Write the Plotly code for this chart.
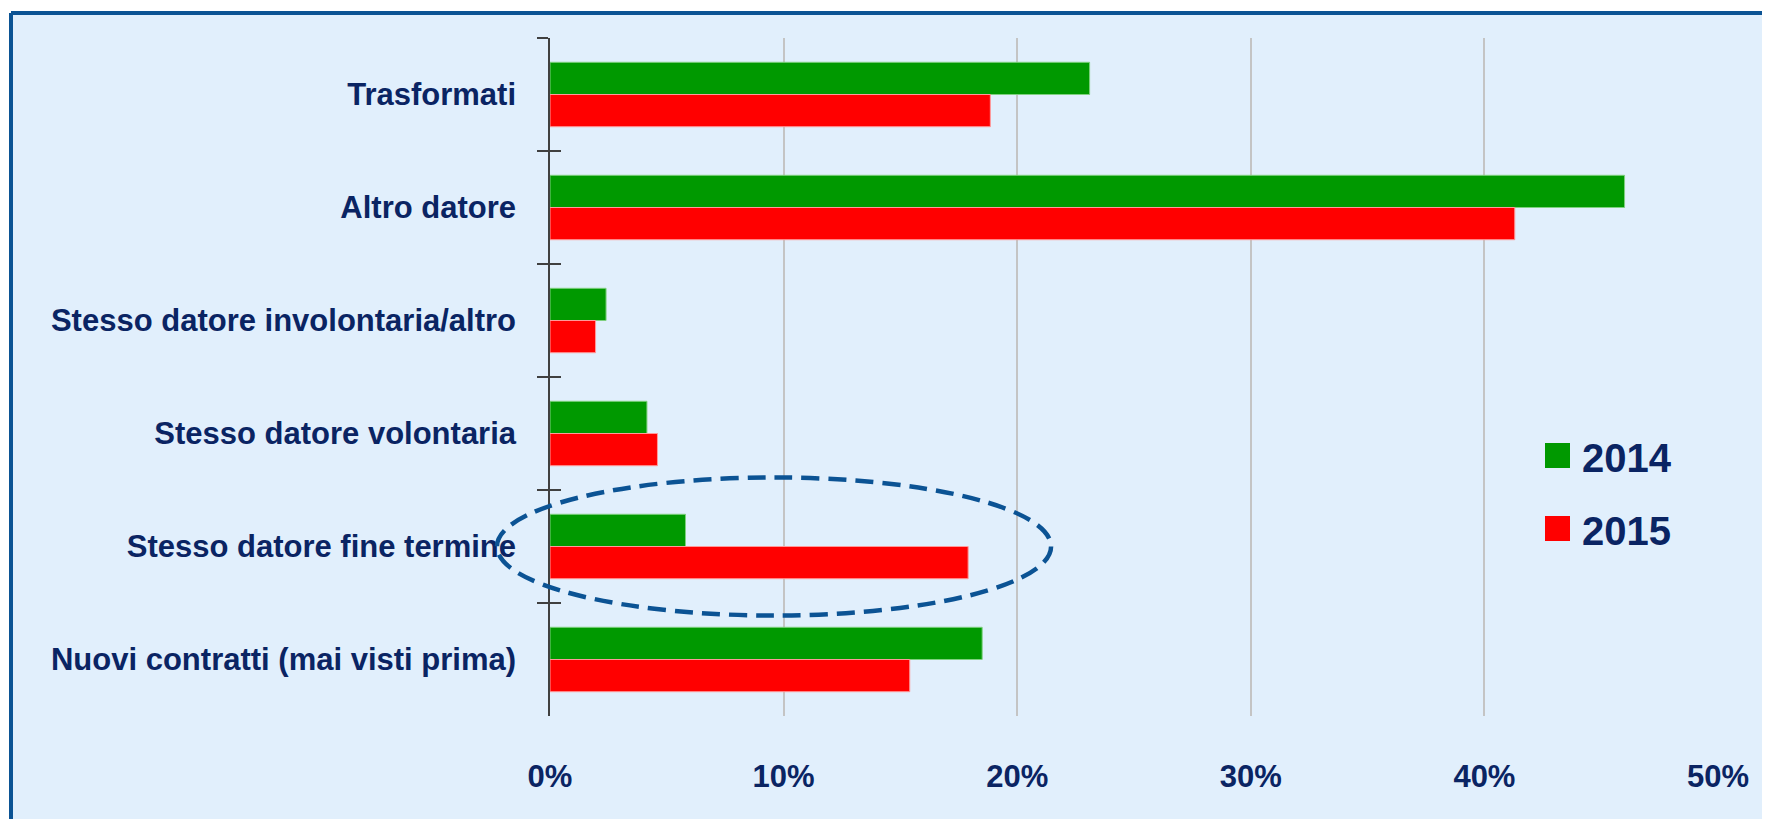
import plotly.graph_objects as go

categories = [
    "Trasformati",
    "Altro datore",
    "Stesso datore involontaria/altro",
    "Stesso datore volontaria",
    "Stesso datore fine termine",
    "Nuovi contratti (mai visti prima)",
]
values_2014 = [23.1, 46.0, 2.4, 4.15, 5.8, 18.5]
values_2015 = [18.85, 41.3, 1.95, 4.6, 17.9, 15.4]
series_names = ["2014", "2015"]
x_ticks = [0, 10, 20, 30, 40, 50]
x_ticktext = ["0%", "10%", "20%", "30%", "40%", "50%"]

GREEN = "#009900"
RED = "#ff0000"
NAVY = "#0a2463"
BG = "#e1effc"
BORDER = "#0b5394"
FONT = "Liberation Sans Narrow, Arial Narrow, Liberation Sans, sans-serif"

OFF = 8  # page body margin
W, H = 1770 - OFF, 819 - OFF
# plot area in page pixels: x 550..1718, y 38..716
ML = 550 - OFF
MT = 38 - OFF
PW = 1718 - 550
PH = 716 - 38
MR = W - ML - PW
MB = H - MT - PH
XMIN, XMAX = 0, 50
N = len(categories)


def px_to_paper_x(px):
    return (px - OFF - ML) / PW


def px_to_paper_y(py):
    return (MT + PH - (py - OFF)) / PH


def data_to_paper_x(v):
    return (v - XMIN) / (XMAX - XMIN)


def cat_to_paper_y(idx):
    return 1 - (idx + 0.5) / N


fig = go.Figure()
fig.add_trace(go.Bar(
    y=categories, x=values_2014, name=series_names[0], orientation="h",
    marker=dict(color=GREEN, line=dict(color="#7fd07f", width=1)),
))
fig.add_trace(go.Bar(
    y=categories, x=values_2015, name=series_names[1], orientation="h",
    marker=dict(color=RED, line=dict(color="#ff9a9a", width=1)),
))

shapes = []
# frame background (no right/bottom border visible in reference)
fx0, fx1 = px_to_paper_x(11), px_to_paper_x(1770)
fy0, fy1 = px_to_paper_y(819), px_to_paper_y(13)
shapes.append(dict(
    type="rect", xref="paper", yref="paper", layer="below",
    x0=fx0, x1=fx1, y0=fy0, y1=fy1,
    fillcolor=BG, line=dict(width=0),
))
shapes.append(dict(type="line", xref="paper", yref="paper", layer="below",
                   x0=fx0, x1=fx1, y0=fy1, y1=fy1, line=dict(color=BORDER, width=4)))
shapes.append(dict(type="line", xref="paper", yref="paper", layer="below",
                   x0=fx0, x1=fx0, y0=fy0, y1=fy1, line=dict(color=BORDER, width=4)))

idx = categories.index("Stesso datore fine termine")
cy = cat_to_paper_y(idx)
half_h = 0.611 / N
shapes.append(dict(
    type="circle", xref="paper", yref="paper", layer="above",
    x0=data_to_paper_x(-2.27), x1=data_to_paper_x(21.45),
    y0=cy - half_h, y1=cy + half_h,
    line=dict(color=BORDER, width=4.5, dash="18px,9px"),
    fillcolor="rgba(0,0,0,0)",
))

legend_rows = [(series_names[0], GREEN, 455.5), (series_names[1], RED, 528.5)]
annotations = []
for name, col, yc in legend_rows:
    shapes.append(dict(
        type="rect", xref="paper", yref="paper",
        x0=px_to_paper_x(1545), x1=px_to_paper_x(1570),
        y0=px_to_paper_y(yc + 12.5), y1=px_to_paper_y(yc - 12.5),
        fillcolor=col, line=dict(width=0),
    ))
    annotations.append(dict(
        xref="paper", yref="paper", x=px_to_paper_x(1580), y=px_to_paper_y(yc + 2),
        xanchor="left", yanchor="middle", text=name, showarrow=False,
        font=dict(family=FONT, size=40, color=NAVY, weight="bold"),
    ))

fig.update_layout(
    width=W, height=H,
    margin=dict(l=ML, r=MR, t=MT, b=MB, pad=0),
    paper_bgcolor="white", plot_bgcolor=BG,
    barmode="group", bargap=0.43, bargroupgap=0,
    showlegend=False,
    shapes=shapes, annotations=annotations,
    font=dict(family=FONT, color=NAVY),
    xaxis=dict(
        range=[XMIN, XMAX], tickvals=x_ticks, ticktext=x_ticktext,
        showgrid=True, gridcolor="#c4c4c4", gridwidth=1.5,
        zeroline=False, showline=False, ticks="",
        tickfont=dict(family=FONT, size=31, color=NAVY, weight="bold"),
        ticklabelstandoff=39,
    ),
    yaxis=dict(
        categoryorder="array", categoryarray=categories, autorange="reversed",
        showline=True, linecolor="#404040", linewidth=1.5,
        ticks="outside", tickson="boundaries", ticklen=11,
        tickcolor="#404040", tickwidth=1.5,
        showgrid=False, zeroline=False,
        tickfont=dict(family=FONT, size=31, color=NAVY, weight="bold"),
        ticklabelstandoff=26,
    ),
    yaxis2=dict(
        overlaying="y", anchor="x", side="left",
        range=[N - 0.5, -0.5], showgrid=False, zeroline=False, showline=False,
        tickvals=[i - 0.5 for i in range(N + 1)], ticks="inside", ticklen=11,
        tickcolor="#404040", tickwidth=1.5, showticklabels=False,
    ),
)
fig.add_trace(go.Scatter(x=[None], y=[None], yaxis="y2", showlegend=False, hoverinfo="skip"))

fig.write_html("out.html")
